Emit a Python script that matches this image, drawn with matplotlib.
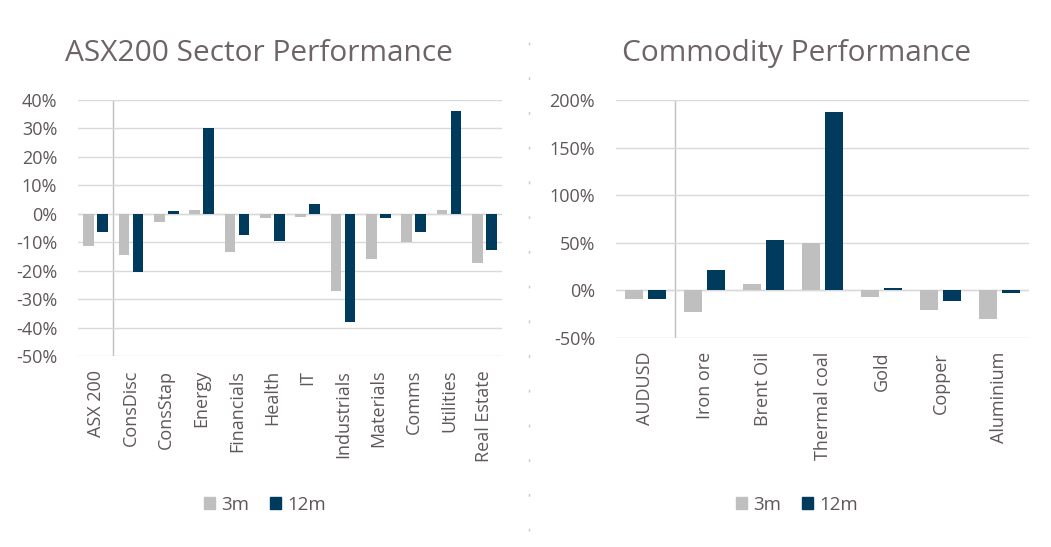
import numpy as np
import matplotlib
matplotlib.use('Agg')
import matplotlib.pyplot as plt
from matplotlib.lines import Line2D
from matplotlib.ticker import FuncFormatter

plt.rcParams['font.family'] = ['Open Sans', 'DejaVu Sans']

# data
sectors = ['ASX 200', 'ConsDisc', 'ConsStap', 'Energy', 'Financials', 'Health', 'IT',
           'Industrials', 'Materials', 'Comms', 'Utilities', 'Real Estate']
sector_3m = [-11.4, -14.6, -2.9, 1.5, -13.4, -1.6, -1.0, -27.0, -16.0, -10.0, 1.5, -17.2]
sector_12m = [-6.3, -20.6, 0.9, 30.1, -7.5, -9.6, 3.5, -38.2, -1.6, -6.3, 36.0, -12.8]

commods = ['AUDUSD', 'Iron ore', 'Brent Oil', 'Thermal coal', 'Gold', 'Copper', 'Aluminium']
commod_3m = [-9.0, -22.5, 6.3, 50.0, -7.0, -20.7, -30.5]
commod_12m = [-9.0, 21.8, 53.0, 187.0, 2.0, -11.2, -3.0]

c3 = '#BFBFBF'
c12 = '#003A5D'
txt = '#5F5758'
grid = '#D9D9D9'
fs = 13

fig = plt.figure(figsize=(10.51, 5.47), dpi=100)

def draw(ax, cats, v3, v12, ylim, step, off, w):
    x = np.arange(len(cats))
    ax.bar(x - off, v3, w, color=c3, zorder=2)
    ax.bar(x + off, v12, w, color=c12, zorder=2)
    ax.set_xlim(-0.5, len(cats) - 0.5)
    ax.set_ylim(*ylim)
    ax.set_yticks(np.arange(ylim[0], ylim[1] + 0.1, step))
    ax.yaxis.set_major_formatter(FuncFormatter(lambda v, p: '%d%%' % v))
    ax.set_xticks(x)
    ax.set_xticklabels(cats, rotation=90, color=txt, fontsize=fs)
    ax.grid(axis='y', color=grid, lw=1, zorder=0)
    ax.axhline(0, color=grid, lw=1, zorder=1)
    ax.axvline(0.5, color='#BFBFBF', lw=1, zorder=1)
    for s in ax.spines.values():
        s.set_visible(False)
    ax.tick_params(axis='y', length=0, pad=15, labelsize=fs, labelcolor=txt)
    ax.tick_params(axis='x', length=0, pad=10)

ax1 = fig.add_axes([78 / 1051, 1 - 356 / 547, 424 / 1051, 256 / 547])
draw(ax1, sectors, sector_3m, sector_12m, (-50, 40), 10, 0.2, 0.3)

ax2 = fig.add_axes([616 / 1051, 1 - 338 / 547, 413 / 1051, 238 / 547])
draw(ax2, commods, commod_3m, commod_12m, (-50, 200), 50, 0.19, 0.3)

fig.text(65 / 1051, 1 - 61 / 547, 'ASX200 Sector Performance', fontsize=21.5,
         color='#6E6466', va='baseline')
fig.text(622 / 1051, 1 - 61 / 547, 'Commodity Performance', fontsize=21.5,
         color='#6E6466', va='baseline')

# dotted divider between the two charts
fig.add_artist(Line2D([529 / 1051, 529 / 1051], [0.03, 0.98], transform=fig.transFigure,
                      color='#C8C8C8', lw=1, linestyle=(0, (2, 23))))

handles = [plt.Rectangle((0, 0), 1, 1, color=c3), plt.Rectangle((0, 0), 1, 1, color=c12)]
for cx in (265, 797):
    fig.legend(handles, ['3m', '12m'], loc='center', bbox_to_anchor=(cx / 1051, 1 - 505 / 547),
               ncol=2, frameon=False, fontsize=13.5, handlelength=0.6, handleheight=0.6,
               handletextpad=0.35, columnspacing=1.1, labelcolor=txt)

fig.savefig('out.png', dpi=100)
